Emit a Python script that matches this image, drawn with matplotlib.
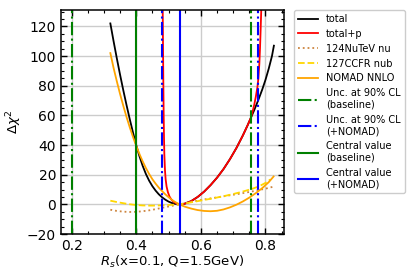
import matplotlib
matplotlib.use("Agg")
import matplotlib.pyplot as plt
from matplotlib.ticker import MultipleLocator

# ---- data ----
total_x = [0.32, 0.33, 0.34, 0.35, 0.36, 0.37, 0.38, 0.39, 0.40, 0.41, 0.42, 0.43, 0.44, 0.45,
           0.46, 0.47, 0.48, 0.49, 0.50, 0.51, 0.52, 0.534,
           0.55, 0.57, 0.59, 0.61, 0.63, 0.65, 0.67, 0.69, 0.71, 0.73, 0.745, 0.755,
           0.765, 0.778, 0.79, 0.80, 0.81, 0.82, 0.826]
total_y = [122, 110, 98.5, 87.5, 77, 67, 57.5, 48.5, 40, 32.5, 26, 20.5, 16, 12.3,
           9.3, 6.8, 4.8, 3.2, 1.9, 1.0, 0.4, 0,
           0.5, 2.2, 5.0, 8.6, 13.0, 18.0, 23.8, 30.5, 38, 46.5, 53.5, 58.5,
           63.5, 70.5, 77.5, 84, 91.5, 100, 107]

totp_x = [0.482, 0.483, 0.484, 0.485, 0.486, 0.487, 0.489, 0.491, 0.494, 0.498, 0.503, 0.509,
          0.516, 0.524, 0.534,
          0.55, 0.57, 0.59, 0.61, 0.63, 0.65, 0.67, 0.69, 0.71, 0.73, 0.745, 0.755,
          0.76, 0.765, 0.77, 0.775, 0.778, 0.781, 0.783, 0.785, 0.787]
totp_y = [132, 105, 80, 60, 45, 34, 23, 17, 12, 8.3, 5.3, 3.2,
          1.7, 0.7, 0,
          0.5, 2.2, 5.0, 8.6, 13.0, 18.0, 23.8, 30.5, 38, 46.5, 53.5, 58.5,
          62.5, 67, 72.5, 79, 85, 95, 105, 118, 132]

nutev_x = [0.32, 0.34, 0.36, 0.38, 0.40, 0.42, 0.44, 0.46, 0.48, 0.50, 0.534,
           0.56, 0.60, 0.64, 0.68, 0.72, 0.76, 0.80, 0.825]
nutev_y = [-3.6, -4.4, -4.9, -5.1, -5.0, -4.6, -4.0, -3.2, -2.3, -1.4, 0,
           1.3, 3.0, 4.4, 5.8, 7.2, 8.8, 10.6, 12]

ccfr_x = [0.32, 0.34, 0.36, 0.38, 0.40, 0.42, 0.44, 0.46, 0.48, 0.50, 0.534,
          0.56, 0.58, 0.60, 0.62, 0.64, 0.66, 0.68, 0.70, 0.72, 0.74, 0.76, 0.78, 0.80, 0.815]
ccfr_y = [2.5, 1.6, 0.8, 0.1, -0.4, -0.7, -0.8, -0.8, -0.6, -0.4, 0,
          1.0, 1.8, 2.6, 3.4, 4.2, 5.1, 6.0, 7.0, 8.1, 9.3, 10.6, 12.2, 14.5, 16.8]

nomad_x = [0.32, 0.33, 0.34, 0.35, 0.36, 0.37, 0.38, 0.39, 0.40, 0.41, 0.42, 0.43, 0.44, 0.45,
           0.46, 0.47, 0.48, 0.49, 0.50, 0.51, 0.52, 0.534,
           0.55, 0.57, 0.59, 0.61, 0.63, 0.65, 0.67, 0.69, 0.71, 0.73, 0.75, 0.77, 0.79, 0.81, 0.825]
nomad_y = [102, 92, 83, 74.5, 66.5, 59, 52, 45.5, 39.5, 34, 29, 24.5, 20.5, 17,
           14, 11.3, 9, 6.8, 4.9, 3.2, 1.7, 0,
           -1.5, -2.8, -3.8, -4.4, -4.6, -4.3, -3.4, -2.0, -0.2, 2.0, 4.6, 7.6, 11.0, 15.0, 18.8]

unc_base = [0.20, 0.754]
unc_nomad = [0.480, 0.778]
central_base = 0.40
central_nomad = 0.534

fig = plt.figure(figsize=(4.2, 2.8), dpi=100)
ax = fig.add_axes([0.145, 0.164, 0.531, 0.8])

ax.grid(True, color='#cccccc', linewidth=1.0, zorder=0)
ax.set_axisbelow(True)

ax.plot(total_x, total_y, color='black', lw=1.3, label='total')
ax.plot(totp_x, totp_y, color='red', lw=1.3, label='total+p')
ax.plot(nutev_x, nutev_y, color='peru', lw=1.3, ls=':', label='124NuTeV nu')
ax.plot(ccfr_x, ccfr_y, color='gold', lw=1.3, ls='--', label='127CCFR nub')
ax.plot(nomad_x, nomad_y, color='orange', lw=1.3, label='NOMAD NNLO')

for i, v in enumerate(unc_base):
    ax.axvline(v, color='green', lw=1.5, ls='-.',
               label='Unc. at 90% CL\n(baseline)' if i == 0 else None)
for i, v in enumerate(unc_nomad):
    ax.axvline(v, color='blue', lw=1.5, ls='-.',
               label='Unc. at 90% CL\n(+NOMAD)' if i == 0 else None)
ax.axvline(central_base, color='green', lw=1.5, label='Central value\n(baseline)')
ax.axvline(central_nomad, color='blue', lw=1.5, label='Central value\n(+NOMAD)')

ax.set_xlim(0.167, 0.857)
ax.set_ylim(-20, 131)
ax.xaxis.set_major_locator(MultipleLocator(0.2))
ax.xaxis.set_minor_locator(MultipleLocator(0.05))
ax.yaxis.set_major_locator(MultipleLocator(20))
ax.yaxis.set_minor_locator(MultipleLocator(5))
ax.tick_params(which='both', direction='in', top=True, right=True, labelsize=10)
ax.tick_params(which='major', length=4.5, width=1)
ax.tick_params(which='minor', length=2.5, width=0.8)
for s in ax.spines.values():
    s.set_linewidth(1.1)

ax.set_xlabel(r'$R_s$(x=0.1, Q=1.5GeV)', fontsize=9.5, labelpad=1)
ax.set_ylabel(r'$\Delta\chi^2$', fontsize=9.5, labelpad=2)

ax.legend(loc='upper left', bbox_to_anchor=(1.045, 1.0), borderaxespad=0,
          fontsize=7, handlelength=2.1, labelspacing=0.5, framealpha=1,
          edgecolor='#cccccc', fancybox=True)

fig.savefig('out.png', dpi=100)
